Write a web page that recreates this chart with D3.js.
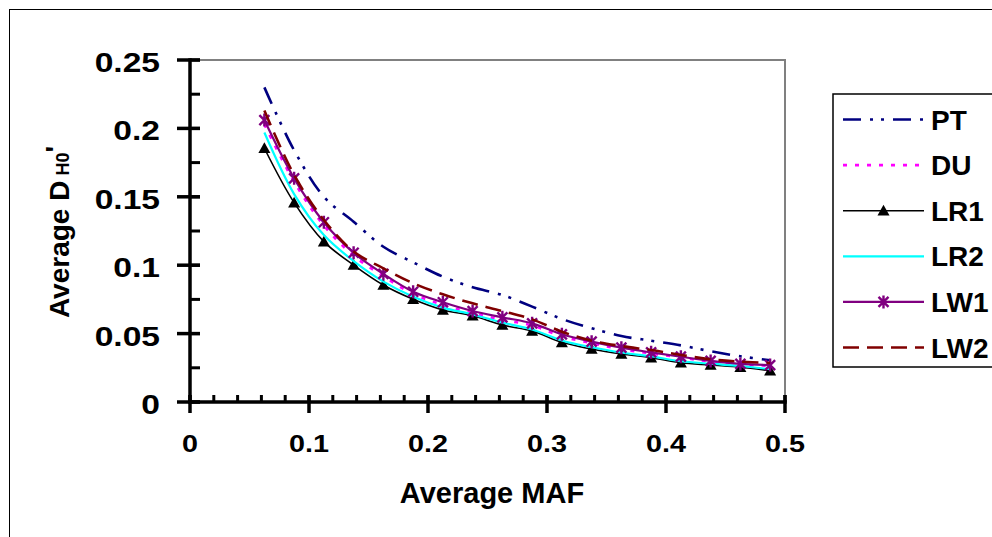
<!DOCTYPE html>
<html>
<head>
<meta charset="utf-8">
<script src="https://cdn.jsdelivr.net/npm/d3@7"></script>
<style>
  html, body { margin: 0; padding: 0; background: #fff; }
  svg { display: block; font-family: "Liberation Sans", Arial, sans-serif; }
</style>
</head>
<body>
<svg id="chart" width="992" height="537"></svg>
<script>
// ---- data ----
const maf = [0.0625, 0.0875, 0.1125, 0.1375, 0.1625, 0.1875, 0.2125, 0.2375, 0.2625,
             0.2875, 0.3125, 0.3375, 0.3625, 0.3875, 0.4125, 0.4375, 0.4625, 0.4875];
const PT  = [0.230, 0.184, 0.150, 0.1318, 0.1135, 0.1021, 0.0916, 0.0838, 0.0782,
             0.0697, 0.0607, 0.0539, 0.0482, 0.0448, 0.0414, 0.0371, 0.0334, 0.0305];
const DU  = [0.203, 0.161, 0.129, 0.107, 0.092, 0.079, 0.071, 0.065, 0.060,
             0.056, 0.048, 0.043, 0.0385, 0.0355, 0.0325, 0.0295, 0.0275, 0.0265];
const LR1 = [0.1855, 0.1457, 0.1172, 0.1001, 0.0855, 0.0751, 0.0673, 0.0631, 0.0563,
             0.0519, 0.0436, 0.0387, 0.0351, 0.0324, 0.0287, 0.0270, 0.0254, 0.0229];
const LR2 = [0.197, 0.152, 0.122, 0.103, 0.088, 0.077, 0.069, 0.064, 0.058,
             0.053, 0.045, 0.040, 0.0362, 0.0333, 0.0298, 0.0280, 0.0263, 0.0240];
const LW1 = [0.2061, 0.1635, 0.1314, 0.1091, 0.0936, 0.0806, 0.0729, 0.0665, 0.0619,
             0.0575, 0.0495, 0.0441, 0.0397, 0.0363, 0.0331, 0.0300, 0.0278, 0.0270];
const LW2 = [0.213, 0.166, 0.133, 0.110, 0.0977, 0.0868, 0.0787, 0.0721, 0.0665,
             0.0604, 0.0514, 0.0448, 0.0409, 0.0380, 0.0344, 0.0312, 0.0295, 0.0285];
const seriesNames = ["PT", "DU", "LR1", "LR2", "LW1", "LW2"];
const xTicks = [0, 0.1, 0.2, 0.3, 0.4, 0.5];
const yTicks = [0, 0.05, 0.1, 0.15, 0.2, 0.25];
const xTickLabels = ["0", "0.1", "0.2", "0.3", "0.4", "0.5"];
const yTickLabels = ["0", "0.05", "0.1", "0.15", "0.2", "0.25"];

// ---- styles ----
const styles = {
  PT:  { color: "#000080", width: 2.6, dash: "18,9,3,8,3,9", marker: null },
  DU:  { color: "#FF00FF", width: 2.6, dash: "4,8", marker: null },
  LR1: { color: "#000000", width: 1.6, dash: null, marker: "triangle" },
  LR2: { color: "#00FFFF", width: 2.2, dash: null, marker: null },
  LW1: { color: "#800080", width: 2.2, dash: null, marker: "star" },
  LW2: { color: "#800000", width: 2.6, dash: "16,8", marker: null }
};
const valuesOf = { PT, DU, LR1, LR2, LW1, LW2 };

const svg = d3.select("#chart");

// outer chart border
svg.append("rect").attr("x", 9.5).attr("y", 9.5).attr("width", 1000).attr("height", 1000)
  .attr("fill", "none").attr("stroke", "#000").attr("stroke-width", 1);

const x = d3.scaleLinear().domain([0, 0.5]).range([190, 785]);
const y = d3.scaleLinear().domain([0, 0.25]).range([402, 60]);

// plot area border (top/right, gray)
svg.append("path")
  .attr("d", `M${x(0)},${y(0.25)}H${x(0.5)}V${y(0)}`)
  .attr("fill", "none").attr("stroke", "#808080").attr("stroke-width", 2);

// ---- axes ----
const axW = 3.5;
const xMinor = d3.range(0, 0.5001, 0.02);
svg.append("g").selectAll("line").data(xMinor).join("line")
  .attr("x1", d => x(d)).attr("x2", d => x(d))
  .attr("y1", y(0) - 7).attr("y2", y(0))
  .attr("stroke", "#000").attr("stroke-width", 3);
svg.append("g").selectAll("line").data(xTicks).join("line")
  .attr("x1", d => x(d)).attr("x2", d => x(d))
  .attr("y1", y(0) - 7).attr("y2", y(0) + 11)
  .attr("stroke", "#000").attr("stroke-width", 3.5);
const yMinor = d3.range(0, 0.2501, 0.025);
svg.append("g").selectAll("line").data(yMinor).join("line")
  .attr("x1", x(0)).attr("x2", x(0) + 10)
  .attr("y1", d => y(d)).attr("y2", d => y(d))
  .attr("stroke", "#000").attr("stroke-width", 3);
svg.append("g").selectAll("line").data(yTicks).join("line")
  .attr("x1", x(0) - 13).attr("x2", x(0) + 10)
  .attr("y1", d => y(d)).attr("y2", d => y(d))
  .attr("stroke", "#000").attr("stroke-width", 3.5);
svg.append("line").attr("x1", x(0)).attr("x2", x(0.5)).attr("y1", y(0)).attr("y2", y(0))
  .attr("stroke", "#000").attr("stroke-width", axW).attr("stroke-linecap", "square");
svg.append("line").attr("x1", x(0)).attr("x2", x(0)).attr("y1", y(0)).attr("y2", y(0.25))
  .attr("stroke", "#000").attr("stroke-width", axW).attr("stroke-linecap", "square");

// tick labels
svg.append("g").selectAll("g").data(xTicks).join("g")
  .attr("transform", d => `translate(${x(d)},452) scale(1.25,1)`)
  .append("text").attr("text-anchor", "middle")
  .attr("font-size", 23).attr("font-weight", "bold")
  .text((d, i) => xTickLabels[i]);
svg.append("g").selectAll("g").data(yTicks).join("g")
  .attr("transform", d => `translate(160,${y(d) + 12}) scale(1.2,1)`)
  .append("text").attr("text-anchor", "end")
  .attr("font-size", 28).attr("font-weight", "bold")
  .text((d, i) => yTickLabels[i]);

// axis titles
svg.append("text").attr("x", 492).attr("y", 503).attr("text-anchor", "middle")
  .attr("font-size", 29).attr("font-weight", "bold").text("Average MAF");
const yt = svg.append("text").attr("transform", "translate(69,232) rotate(-90)")
  .attr("text-anchor", "middle").attr("font-size", 28).attr("font-weight", "bold");
yt.append("tspan").text("Average D");
yt.append("tspan").attr("font-size", 18).text(" H0");
yt.append("tspan").attr("font-size", 28).attr("dy", -4).text("'");

// ---- series ----
const line = d3.line().x(d => x(d[0])).y(d => y(d[1])).curve(d3.curveCatmullRom.alpha(0.5));
const starPath = s => `M${-s},${-s}L${s},${s}M${-s},${s}L${s},${-s}M0,${-s * 1.3}V${s * 1.3}`;
const triPath = s => `M0,${-s}L${s},${s * 0.8}L${-s},${s * 0.8}Z`;

function drawMarker(g, type, cx, cy, color) {
  if (type === "triangle") {
    g.append("path").attr("d", triPath(6)).attr("transform", `translate(${cx},${cy})`)
      .attr("fill", color);
  } else if (type === "star") {
    g.append("path").attr("d", starPath(5)).attr("transform", `translate(${cx},${cy})`)
      .attr("fill", "none").attr("stroke", color).attr("stroke-width", 2.4);
  }
}

seriesNames.forEach(name => {
  const st = styles[name];
  const pts = maf.map((m, i) => [m, valuesOf[name][i]]);
  const g = svg.append("g");
  g.append("path").attr("d", line(pts)).attr("fill", "none")
    .attr("stroke", st.color).attr("stroke-width", st.width)
    .attr("stroke-dasharray", st.dash);
  if (st.marker) pts.forEach(p => drawMarker(g, st.marker, x(p[0]), y(p[1]), st.color));
});

// ---- legend ----
const lg = svg.append("g");
lg.append("rect").attr("x", 833).attr("y", 94).attr("width", 200).attr("height", 273)
  .attr("fill", "#fff").attr("stroke", "#000").attr("stroke-width", 1.5);
seriesNames.forEach((name, i) => {
  const st = styles[name];
  const ly = 119.5 + i * 45.6;
  lg.append("line").attr("x1", 843).attr("x2", 924).attr("y1", ly).attr("y2", ly)
    .attr("stroke", st.color).attr("stroke-width", st.width).attr("stroke-dasharray", st.dash);
  if (st.marker) drawMarker(lg, st.marker, 883.5, ly, st.color);
  lg.append("text").attr("x", 931).attr("y", ly + 10).attr("font-size", 28)
    .attr("font-weight", "bold").text(name);
});
</script>
</body>
</html>
